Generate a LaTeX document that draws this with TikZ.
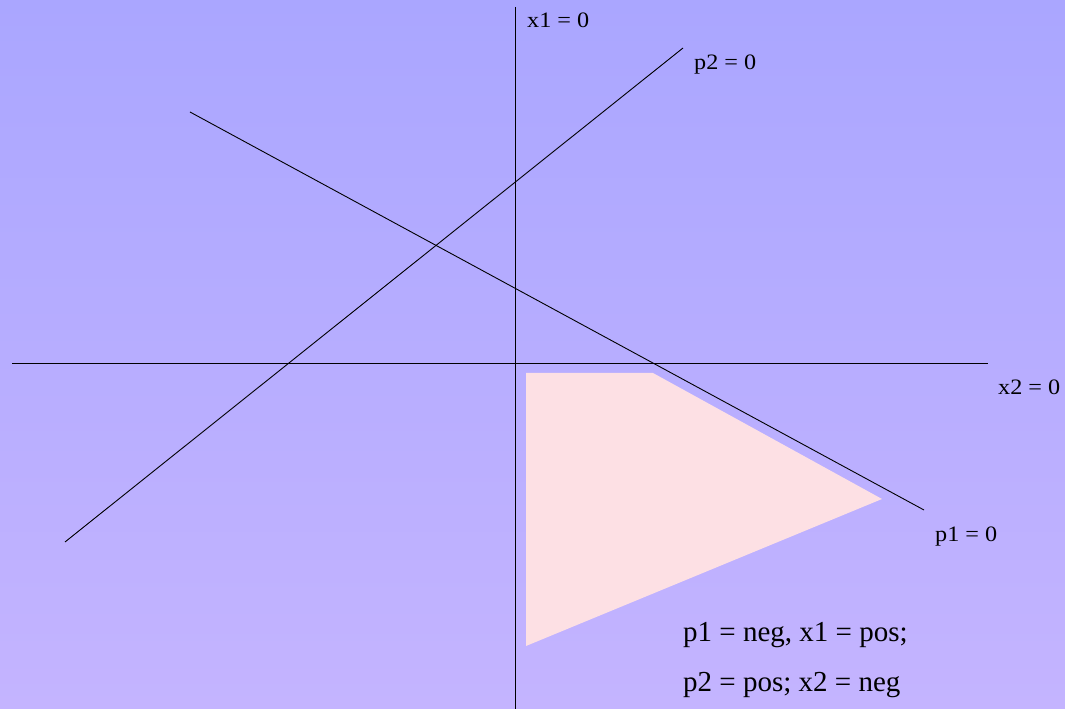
\documentclass[tikz,border=0pt]{standalone}
\usepackage{fontspec}
\setmainfont{Liberation Serif}
\definecolor{bgtop}{RGB}{170,166,255}
\definecolor{bgbot}{RGB}{196,180,255}
\definecolor{region}{RGB}{253,224,228}
\tikzset{
  axis/.style={black, line width=0.9pt},
  lbl/.style={anchor=base west, inner sep=0pt, font=\fontsize{22}{26}\selectfont, xscale=1.1, transform shape},
  note/.style={anchor=base west, inner sep=0pt, font=\fontsize{29}{34}\selectfont},
}
\begin{document}
\begin{tikzpicture}[x=1pt,y=1pt]
\shade[top color=bgtop, bottom color=bgbot] (0,0) rectangle (1065,709);
\useasboundingbox (0,0) rectangle (1065,709);
% feasible region
\fill[region] (526,336) -- (653,336) -- (882,210) -- (526,63) -- cycle;
% lines
\coordinate (x1a) at (515,702);
\coordinate (x1b) at (515,0);
\coordinate (x2a) at (12,346);
\coordinate (x2b) at (988,346);
\coordinate (p2a) at (65,167);
\coordinate (p2b) at (683,661);
\coordinate (p1a) at (190,597);
\coordinate (p1b) at (924,199);
\draw[axis] (x1a) -- (x1b);
\draw[axis] (x2a) -- (x2b);
\draw[axis] (p2a) -- (p2b);
\draw[axis] (p1a) -- (p1b);
% labels
\node[lbl] (lx1) at (527,681) {x1 = 0};
\node[lbl] (lp2) at (694,639) {p2 = 0};
\node[lbl] (lx2) at (998,314) {x2 = 0};
\node[lbl] (lp1) at (935,167) {p1 = 0};
\node[note] (n1) at (683,67) {p1 = neg, x1 = pos;};
\node[note] (n2) at (683,17) {p2 = pos; x2 = neg};
\end{tikzpicture}
\end{document}
